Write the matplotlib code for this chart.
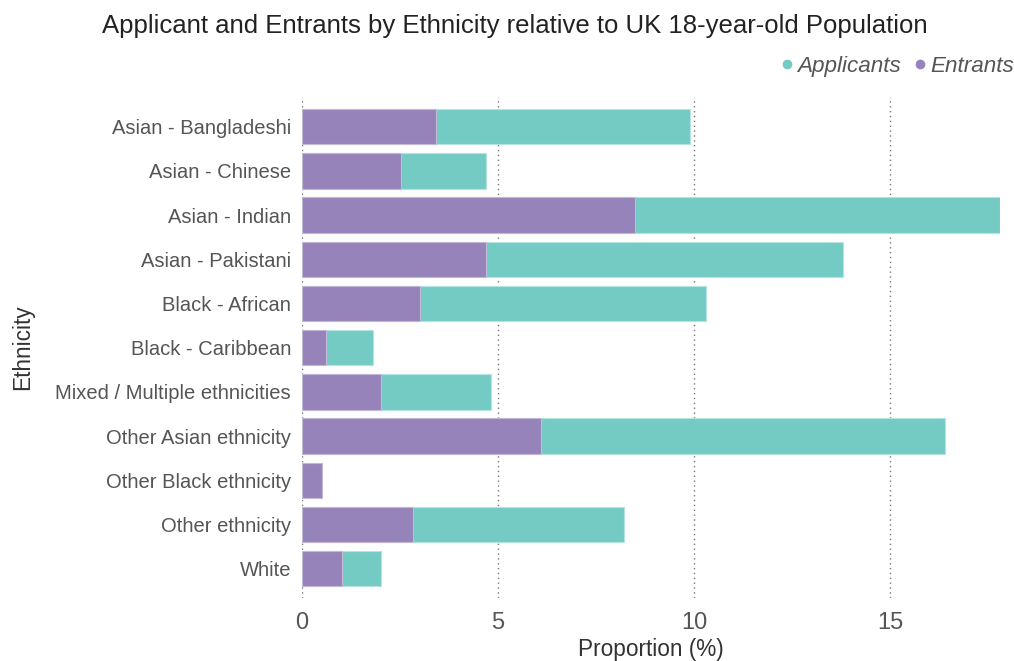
import numpy as np
import matplotlib
matplotlib.use("Agg")
import matplotlib.pyplot as plt
from matplotlib.lines import Line2D

# Proportions (%) relative to the UK 18-year-old population
ethnicities = [
    "Asian - Bangladeshi",
    "Asian - Chinese",
    "Asian - Indian",
    "Asian - Pakistani",
    "Black - African",
    "Black - Caribbean",
    "Mixed / Multiple ethnicities",
    "Other Asian ethnicity",
    "Other Black ethnicity",
    "Other ethnicity",
    "White",
]
applicants = [9.89, 4.69, 17.80, 13.79, 10.30, 1.80, 4.81, 16.39, 0.0, 8.21, 2.01]
entrants = [3.41, 2.51, 8.50, 4.70, 3.00, 0.60, 2.01, 6.09, 0.50, 2.82, 1.02]
x_ticks = [0, 5, 10, 15]

teal = "#74CBC4"
purple = "#9683B9"
text_grey = "#555555"

plt.rcParams["font.family"] = ["Liberation Sans", "DejaVu Sans"]

fig = plt.figure(figsize=(10.14, 6.61), dpi=100)
ax = fig.add_axes([0.298, 0.095, 0.688, 0.758])

y = np.arange(len(ethnicities))
ax.barh(y, applicants, height=0.8, color=teal, edgecolor="#B5E3DF",
        linewidth=0.8, zorder=2)
ax.barh(y, entrants, height=0.8, color=purple, edgecolor="#C4B8D8",
        linewidth=0.8, zorder=3)

ax.set_ylim(len(ethnicities) - 1 + 0.67, -0.67)
ax.set_xlim(0, max(applicants))
ax.set_yticks(y)
ax.set_yticklabels(ethnicities, fontsize=14.5, color=text_grey)
ax.set_xticks(x_ticks)
ax.set_xticklabels([str(t) for t in x_ticks], fontsize=17, color=text_grey)
ax.tick_params(axis="both", length=0)
ax.tick_params(axis="y", pad=8)
ax.tick_params(axis="x", pad=10)

ax.grid(True, axis="x", linestyle=(0, (1, 2.5)), color="#777777",
        linewidth=1.0, zorder=1)
ax.set_axisbelow(True)
for s in ax.spines.values():
    s.set_visible(False)

ax.set_xlabel("Proportion (%)", fontsize=16.3, color="#333333", labelpad=3)
ax.set_ylabel("Ethnicity", fontsize=16.3, color="#333333")
ax.yaxis.set_label_coords(-0.384, 0.5)

fig.text(0.508, 0.960, "Applicant and Entrants by Ethnicity relative to UK 18-year-old Population",
         ha="center", va="center", fontsize=18.5, color="#222222")

handles = [
    Line2D([], [], marker="o", linestyle="", color=teal, markersize=6),
    Line2D([], [], marker="o", linestyle="", color=purple, markersize=6),
]
leg = fig.legend(handles, ["Applicants", "Entrants"], loc="center right",
                 bbox_to_anchor=(1.02, 0.900), ncol=2, frameon=False,
                 handletextpad=-0.05, columnspacing=0.35, handlelength=1.0,
                 prop={"size": 16.2, "style": "italic"})
for t in leg.get_texts():
    t.set_color(text_grey)

fig.savefig("out.png", dpi=100, facecolor="white")
